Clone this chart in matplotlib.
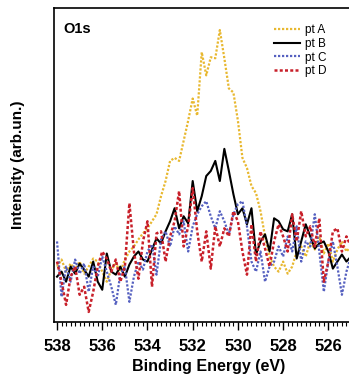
import numpy as np
import matplotlib
matplotlib.use("Agg")
from matplotlib import pyplot as plt
from matplotlib.ticker import MultipleLocator

plt.rcParams['font.family'] = ['Liberation Sans', 'DejaVu Sans']

# binding energy grid, 538.0 -> 525.0 eV in 0.2 eV steps
energy = 538.0 - 0.2 * np.arange(66)

# intensities (arb. units), five points per eV
pt_a = [55, 62, 50, 58, 52,
        60, 48, 55, 63, 60,
        50, 40, 52, 58, 50,
        62, 70, 75, 82, 88,
        93, 100, 107, 125, 140,
        160, 163, 160, 180, 200,
        222, 205, 268, 245, 263,
        262, 290, 262, 232, 228,
        200, 163, 153, 135, 128,
        110, 85, 65, 55, 50,
        60, 48, 55, 70, 75,
        65, 80, 72, 85, 68,
        78, 60, 72, 80, 70,
        75]
pt_b = [45, 50, 40, 55, 48,
        58, 52, 45, 60, 40,
        32, 68, 50, 47, 55,
        45, 57, 65, 70, 62,
        60, 72, 83, 78, 90,
        100, 113, 93, 105, 98,
        140, 110, 125, 145, 150,
        160, 140, 172, 150, 127,
        107, 113, 97, 113, 67,
        80, 87, 70, 103, 100,
        92, 90, 107, 63, 80,
        97, 85, 73, 78, 80,
        70, 53, 60, 67, 60,
        65]
pt_c = [80, 25, 55, 40, 62,
        48, 58, 30, 55, 45,
        65, 50, 35, 17, 48,
        55, 20, 45, 60, 52,
        70, 77, 47, 82, 90,
        75, 95, 87, 100, 70,
        95, 107, 115, 120, 105,
        93, 110, 100, 87, 107,
        117, 120, 95, 60, 50,
        70, 40, 55, 60, 75,
        65, 85, 70, 95, 60,
        80, 75, 107, 70, 30,
        60, 80, 55, 27, 50,
        65]
pt_d = [60, 40, 17, 45, 55,
        27, 35, 10, 30, 55,
        70, 63, 50, 62, 40,
        55, 118, 70, 43, 80,
        100, 35, 88, 90, 60,
        85, 100, 130, 75, 95,
        133, 90, 60, 90, 53,
        95, 75, 93, 85, 110,
        100, 70, 47, 97, 60,
        90, 73, 55, 80, 97,
        85, 70, 107, 80, 110,
        85, 95, 75, 103, 40,
        60, 90, 93, 70, 85,
        75]

fig = plt.figure(figsize=(3.49, 3.77), dpi=100)
ax = fig.add_axes([0.155, 0.146, 0.883, 0.833])

ax.plot(energy, pt_a, color="#E8B830", linestyle=(0, (1, 0.8)), linewidth=1.6, label="pt A")
ax.plot(energy, pt_b, color="black", linestyle="-", linewidth=1.5, label="pt B")
ax.plot(energy, pt_c, color="#5560C0", linestyle=(0, (1, 0.8)), linewidth=1.6, label="pt C")
ax.plot(energy, pt_d, color="#C8202A", linestyle=(0, (1.2, 0.9)), linewidth=1.8, label="pt D")

ax.set_xlim(538.13, 524.5)
ax.set_ylim(0, 312)
ax.xaxis.set_major_locator(MultipleLocator(2))
ax.xaxis.set_minor_locator(MultipleLocator(0.2))
ax.tick_params(axis="x", which="major", direction="out", length=6, width=1, labelsize=12, pad=6)
ax.tick_params(axis="x", which="minor", direction="out", length=3, width=0.8)
ax.set_yticks([])
for lab in ax.get_xticklabels():
    lab.set_fontweight("bold")
for sp in ax.spines.values():
    sp.set_linewidth(1.2)

ax.set_xlabel("Binding Energy (eV)", fontsize=11.5, fontweight="bold", labelpad=4)
ax.set_ylabel("Intensity (arb.un.)", fontsize=11, fontweight="bold", labelpad=21)
ax.text(0.03, 0.92, "O1s", transform=ax.transAxes, fontsize=10.5, fontweight="bold")

ax.legend(loc="upper left", bbox_to_anchor=(0.767, 0.952), bbox_transform=fig.transFigure,
          frameon=False, fontsize=8.5, handlelength=2.2, handletextpad=0.45,
          labelspacing=0.15, borderpad=0)

fig.savefig("out.png", dpi=100)
